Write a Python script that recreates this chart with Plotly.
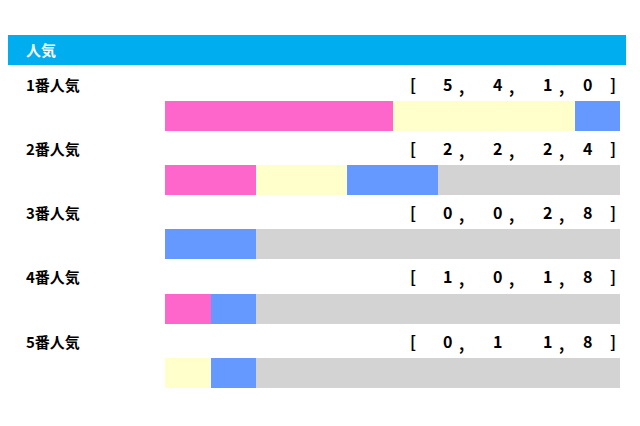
import plotly.graph_objects as go

labels = ["1番人気", "2番人気", "3番人気", "4番人気", "5番人気"]
win = [5, 2, 0, 1, 0]
second = [4, 2, 0, 0, 1]
third = [1, 2, 2, 1, 1]
other = [0, 4, 8, 8, 8]
commas = [[True, True, True], [True, True, True], [True, True, True], [True, True, True], [True, False, True]]

W, H = 640, 426
D = 8  # page body margin offset
x0, x1 = 165 - D, 620 - D
row_y = [116 - D, 180 - D, 244 - D, 309 - D, 373 - D]
ylab = [84 - D, 148 - D, 212 - D, 276 - D, 341 - D]

fig = go.Figure()
for vals, col in [(win, "#FF66CC"), (second, "#FFFFCC"), (third, "#6699FF"), (other, "#D3D3D3")]:
    fig.add_trace(go.Bar(x=vals, y=row_y, orientation="h", width=30, marker=dict(color=col, line_width=0), hoverinfo="skip"))

fig.update_layout(
    barmode="stack", width=W, height=H, margin=dict(l=0, r=0, t=0, b=0),
    paper_bgcolor="white", plot_bgcolor="white", showlegend=False,
    xaxis=dict(domain=[x0 / W, x1 / W], range=[0, 10], visible=False, fixedrange=True),
    yaxis=dict(range=[H, 0], visible=False, fixedrange=True),
)
fig.add_shape(type="rect", xref="paper", yref="paper", x0=0, x1=(626 - D) / W, y0=1 - (65 - D) / H, y1=1 - (35 - D) / H,
              fillcolor="#00AEEF", line_width=0, layer="below")
font = "Noto Sans CJK JP"
def ann(x, y, t, size=15, color="black", anchor="left"):
    fig.add_annotation(x=x / W, y=1 - y / H, xref="paper", yref="paper", text=t, showarrow=False,
                       xanchor=anchor, yanchor="middle", font=dict(family=font, size=size, color=color))
ann(24 - D, 50 - D, "<b>人気</b>", 15, "white")
for i in range(5):
    ann(24 - D, ylab[i], "<b>" + labels[i] + "</b>", 15)
    y = ylab[i]
    vals = [win[i], second[i], third[i], other[i]]
    ann(413 - D, y, "<b>[</b>", 16, anchor="center")
    for j, (vx, v) in enumerate(zip([447, 497, 547, 587], vals)):
        ann(vx - D, y, "<b>%d</b>" % v, 16, anchor="center")
        if j < 3 and commas[i][j]:
            ann(vx - D + 14, y + 2, "<b>,</b>", 16, anchor="center")
    ann(613 - D, y, "<b>]</b>", 16, anchor="center")

fig.write_html("out.html")
